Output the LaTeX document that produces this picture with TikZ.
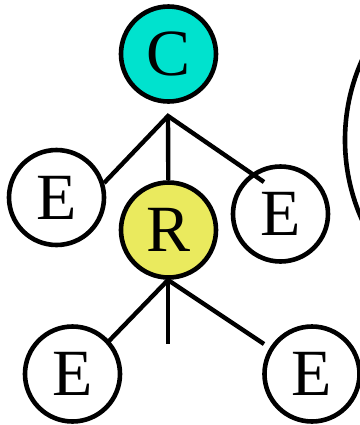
\documentclass[tikz,border=0pt]{standalone}
\usepackage{fontspec}
\setmainfont{Liberation Serif}
\usepackage{tikz}
\definecolor{cnode}{RGB}{0,226,206}
\definecolor{rnode}{RGB}{234,234,94}
\tikzset{
  % node styles for the tree: plain, C and R
  plain node/.style={circle,draw,line width=2.3pt,inner sep=0,minimum size=47.5pt,fill=white},
  c node/.style={plain node,fill=cnode},
  r node/.style={plain node,fill=rnode},
  branch/.style={line width=2.2pt}
}

\begin{document}
\begin{tikzpicture}[x=0.5pt,y=-0.5pt,font=\fontsize{33}{36}\selectfont]
  \useasboundingbox (0,0) rectangle (360,425);
  \clip (0,0) rectangle (360,425);
  % The Tree
  \node(c)[c node] at (168.5,54) {C};
  \node(r)[r node] at (168.5,230) {R};
  \node(e1)[plain node] at (56.5,197.5) {E};
  \node(e2)[plain node] at (280.5,214) {E};
  \node(e3)[plain node] at (72.5,374) {E};
  \node(e4)[plain node] at (312,374) {E};
  % the big circle on the right
  \node(big)[circle,draw,line width=2.3pt,inner sep=0,minimum size=195pt] at (540,140) {};
  % branch points and line ends
  \coordinate (j1) at (168,116);
  \coordinate (t1) at (104,183);
  \coordinate (t2) at (264,182);
  \coordinate (j2) at (168,280);
  \coordinate (b1) at (108,342);
  \coordinate (b2) at (168,344);
  \coordinate (b3) at (264,344);
  \draw[branch] (t1) -- (j1) -- (t2);
  \draw[branch] (j1) -- (r);
  \draw[branch] (b1) -- (j2) -- (b3);
  \draw[branch] (j2) -- (b2);
\end{tikzpicture}
\end{document}
